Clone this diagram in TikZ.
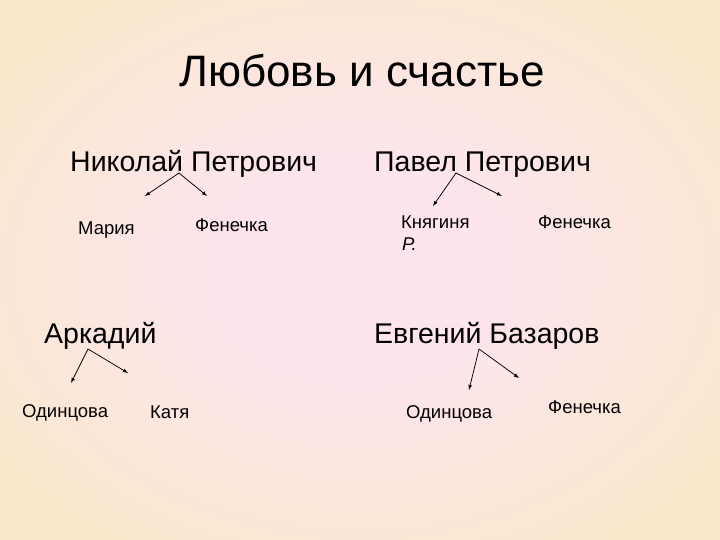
\documentclass[tikz,border=0pt]{standalone}
\usepackage{fontspec}
\setmainfont{Liberation Sans}
\usetikzlibrary{arrows}
\definecolor{peach}{RGB}{251,233,203}
\definecolor{rosy}{RGB}{253,228,238}
\pgfdeclareradialshading{slideglow}{\pgfpoint{0bp}{0bp}}{%
  color(0bp)=(rosy); color(9bp)=(rosy); color(32bp)=(peach); color(50bp)=(peach)}
\tikzset{
  title/.style={font=\fontsize{44}{48}\selectfont, inner sep=0pt},
  hero/.style={font=\fontsize{28.5}{32}\selectfont, anchor=base west, inner sep=0pt},
  love/.style={font=\fontsize{18.5}{21}\selectfont, anchor=base west, inner sep=0pt, align=left},
  link/.style={-latex, line width=0.75pt, black}
}
\begin{document}
\begin{tikzpicture}[x=1pt,y=-1pt]
\shade[shading=slideglow] (0,0) rectangle (720,540); % background
\useasboundingbox (0,0) rectangle (720,540);
\node[title, anchor=base] (title) at (362,87) {Любовь и счастье};
% heroes
\node[hero] (nikolai) at (70,172) {Николай Петрович};
\node[hero] (pavel) at (374,172) {Павел Петрович};
\node[hero] (arkadij) at (44,343) {Аркадий};
\node[hero] (bazarov) at (374,343) {Евгений Базаров};
% their loves
\node[love] (maria) at (78,235) {Мария};
\node[love] (fen1) at (195,231) {Фенечка};
\node[love] (knyag) at (401,229) {Княгиня};
\node[love] (knyagr) at (402,251) {\itshape Р.};
\node[love] (fen2) at (538,229) {Фенечка};
\node[love] (odin1) at (22,417) {Одинцова};
\node[love] (katya) at (150,418) {Катя};
\node[love] (odin2) at (406,418) {Одинцова};
\node[love] (fen3) at (548,413) {Фенечка};
% arrows
\coordinate (nikolai top) at (179,173);
\coordinate (nikolai l) at (145,196);
\coordinate (nikolai r) at (207,196);
\coordinate (pavel top) at (456,173);
\coordinate (pavel l) at (433,206);
\coordinate (pavel r) at (502,196);
\coordinate (arkadij top) at (88,349);
\coordinate (arkadij l) at (71,383);
\coordinate (arkadij r) at (128,373);
\coordinate (bazarov top) at (479,349);
\coordinate (bazarov l) at (469,390);
\coordinate (bazarov r) at (519,378);
\draw[link] (nikolai top) -- (nikolai l);
\draw[link] (nikolai top) -- (nikolai r);
\draw[link] (pavel top) -- (pavel l);
\draw[link] (pavel top) -- (pavel r);
\draw[link] (arkadij top) -- (arkadij l);
\draw[link] (arkadij top) -- (arkadij r);
\draw[link] (bazarov top) -- (bazarov l);
\draw[link] (bazarov top) -- (bazarov r);
\end{tikzpicture}
\end{document}
